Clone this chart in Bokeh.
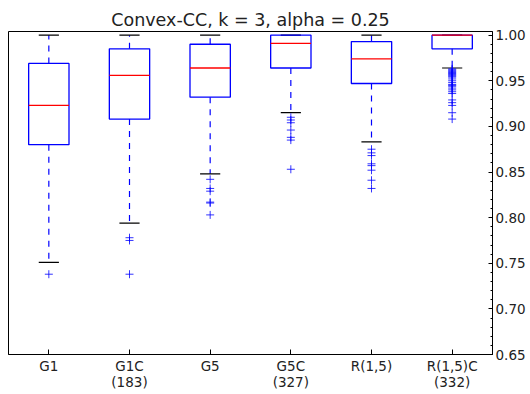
from bokeh.plotting import figure
from bokeh.models import Range1d, FixedTicker, ColumnDataSource
from bokeh.embed import file_html
from bokeh.resources import INLINE

title = "Convex-CC, k = 3, alpha = 0.25"
categories = ["G1", "G1C\n(183)", "G5", "G5C\n(327)", "R(1,5)", "R(1,5)C\n(332)"]
positions = [1, 2, 3, 4, 5, 6]
whisker_low = [0.751, 0.794, 0.848, 0.915, 0.883, 0.964]
q1 = [0.880, 0.908, 0.932, 0.964, 0.947, 0.985]
median = [0.923, 0.956, 0.964, 0.991, 0.974, 1.000]
q3 = [0.969, 0.985, 0.990, 1.000, 0.993, 1.000]
whisker_high = [1.000, 1.000, 1.000, 1.000, 1.000, 1.000]
fliers = [
    [0.738],
    [0.778, 0.775, 0.738],
    [0.842, 0.832, 0.829, 0.817, 0.816, 0.803],
    [0.910, 0.907, 0.904, 0.896, 0.888, 0.885, 0.853],
    [0.875, 0.871, 0.868, 0.859, 0.857, 0.852, 0.841, 0.832],
    [0.963, 0.962, 0.961, 0.960, 0.959, 0.958, 0.957, 0.956, 0.955, 0.954,
     0.952, 0.950, 0.948, 0.946, 0.945, 0.944, 0.942, 0.940, 0.938, 0.936,
     0.929, 0.926, 0.923, 0.915, 0.908],
]
y_ticks = [0.65, 0.70, 0.75, 0.80, 0.85, 0.90, 0.95, 1.00]
y_tick_labels = ["0.65", "0.70", "0.75", "0.80", "0.85", "0.90", "0.95", "1.00"]

box_w = 0.5
cap_w = 0.25

p = figure(width=530, height=394, output_backend="svg", toolbar_location=None,
           x_range=Range1d(0.5, 6.5), y_range=Range1d(0.65, 1.004),
           y_axis_location="right", min_border_left=8, min_border_right=38,
           min_border_top=31, min_border_bottom=40)
p.title.text = title
p.title.align = "center"
p.title.text_font = "DejaVu Sans"
p.title.text_font_size = "17.5px"
p.title.text_font_style = "normal"
p.title.text_color = "#222222"
p.title.standoff = 3
p.grid.visible = False
p.outline_line_color = "black"
p.outline_line_alpha = 1
p.outline_line_width = 1
p.background_fill_color = "white"
p.border_fill_color = "white"

src = ColumnDataSource(dict(x=positions, lo=whisker_low, q1=q1, med=median, q3=q3, hi=whisker_high))
src.data["xl"] = [x - box_w / 2 for x in positions]
src.data["xr"] = [x + box_w / 2 for x in positions]
src.data["cl"] = [x - cap_w / 2 for x in positions]
src.data["cr"] = [x + cap_w / 2 for x in positions]

# whiskers
p.segment(x0="x", y0="q3", x1="x", y1="hi", source=src, line_color="blue", line_width=1.2, line_dash="6 6")
p.segment(x0="x", y0="q1", x1="x", y1="lo", source=src, line_color="blue", line_width=1.2, line_dash="6 6")
# caps
p.segment(x0="cl", y0="hi", x1="cr", y1="hi", source=src, line_color="black", line_width=1.2)
p.segment(x0="cl", y0="lo", x1="cr", y1="lo", source=src, line_color="black", line_width=1.2)
# boxes
p.quad(left="xl", right="xr", bottom="q1", top="q3", source=src, fill_alpha=0, line_color="blue", line_width=1.3)
# medians
p.segment(x0="xl", y0="med", x1="xr", y1="med", source=src, line_color="red", line_width=1.3)
# fliers
fx, fy = [], []
for pos, vals in zip(positions, fliers):
    for v in vals:
        fx.append(pos)
        fy.append(v)
p.scatter(fx, fy, marker="cross", size=8, line_color="blue", line_width=1, line_alpha=0.8)

for ax in p.xaxis:
    ax.ticker = FixedTicker(ticks=positions, minor_ticks=[])
    ax.major_label_overrides = {pos: lab for pos, lab in zip(positions, categories)}
    ax.major_tick_in = 5
    ax.major_tick_out = 0
    ax.minor_tick_in = 0
    ax.minor_tick_out = 0
    ax.axis_line_color = "black"
    ax.major_label_text_font = "DejaVu Sans"
    ax.major_label_text_font_size = "13.5px"
    ax.major_label_text_color = "#222222"
    ax.major_label_text_line_height = 1.0
    ax.major_label_standoff = 3
for ax in p.yaxis:
    ax.ticker = FixedTicker(ticks=y_ticks, minor_ticks=[round(0.65 + 0.01 * i, 2) for i in range(36)])
    ax.major_label_overrides = {t: lab for t, lab in zip(y_ticks, y_tick_labels)}
    ax.major_tick_in = 4
    ax.major_tick_out = 0
    ax.minor_tick_in = 2
    ax.minor_tick_out = 0
    ax.axis_line_color = "black"
    ax.major_label_text_font = "DejaVu Sans"
    ax.major_label_text_font_size = "13.5px"
    ax.major_label_text_color = "#222222"
    ax.major_label_standoff = 3

open("out.html", "w").write(file_html(p, INLINE))
